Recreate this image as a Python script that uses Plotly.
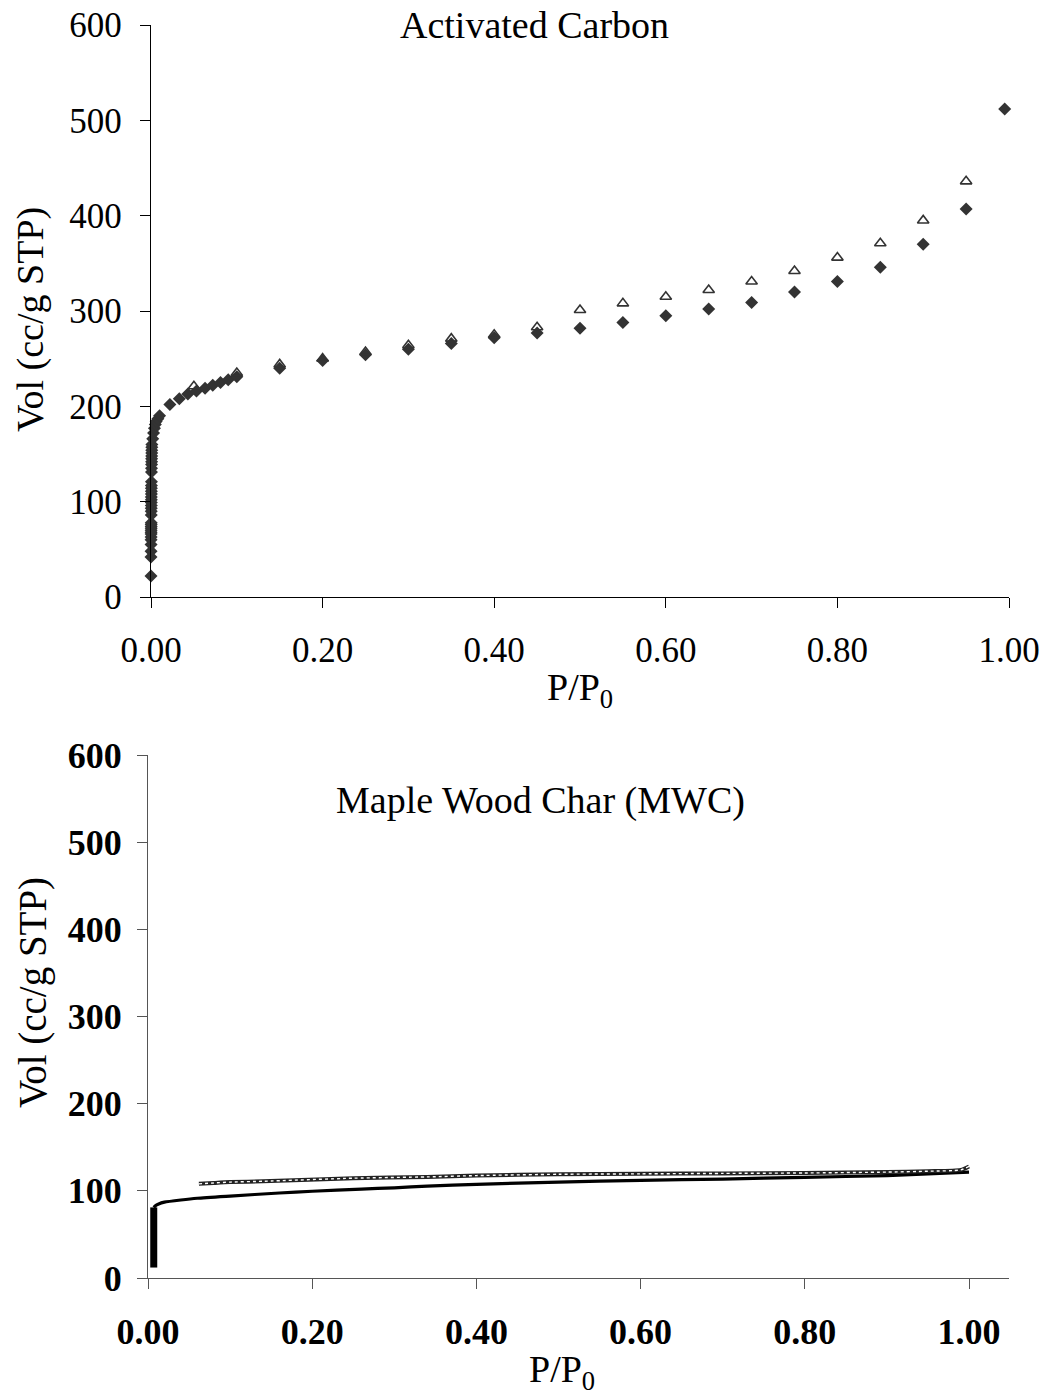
import plotly.graph_objects as go

# ---- Activated carbon: N2 isotherm (adsorption = filled diamonds, desorption = open triangles)
ac_ads_p = [0.00002, 0.00004, 0.00006, 0.00008, 0.0001, 0.00012, 0.00014, 0.00016, 0.00018,
            0.0002, 0.00022, 0.00024, 0.00026, 0.00028, 0.0003, 0.00032, 0.00034, 0.00036,
            0.00038, 0.0004, 0.00042, 0.00044, 0.00046, 0.00048, 0.0005, 0.00055, 0.0006,
            0.00065, 0.0007, 0.00075, 0.0008, 0.00085, 0.0009, 0.00095, 0.001,
            0.002, 0.003, 0.004, 0.005, 0.006, 0.008, 0.010,
            0.022, 0.033, 0.043, 0.053, 0.063, 0.072, 0.081, 0.090, 0.10,
            0.15, 0.20, 0.25, 0.30, 0.35, 0.40, 0.45, 0.50, 0.55, 0.60, 0.65,
            0.70, 0.75, 0.80, 0.85, 0.90, 0.95, 0.995]
ac_ads_v = [22, 42, 48, 55, 60, 63, 66, 68, 70, 72, 74, 76, 78,
            86, 90, 93, 96, 99, 102, 105, 108, 111, 114, 117, 121,
            131, 135, 139, 142, 145, 148, 151, 154, 157, 160,
            166, 172, 177, 181, 184, 187, 190,
            202, 208, 213, 216, 219, 222, 225, 228, 231,
            240, 248, 254, 260, 266, 272, 277, 282, 288, 295, 302,
            309, 320, 331, 346, 370, 407, 512]

ac_des_p = [0.05, 0.10, 0.15, 0.20, 0.25, 0.30, 0.35, 0.40, 0.45, 0.50,
            0.55, 0.60, 0.65, 0.70, 0.75, 0.80, 0.85, 0.90, 0.95]
ac_des_v = [221, 235, 244, 250, 257, 264, 271, 275, 283, 301,
            308, 315, 322, 331, 342, 356, 371, 395, 436]

# ---- Maple wood char (MWC): continuous isotherm traces
mwc_low_p = [0.007, 0.007]
mwc_low_v = [12, 81]

mwc_ads_p = [0.007, 0.009, 0.013, 0.02, 0.04, 0.06, 0.10, 0.16, 0.20, 0.26, 0.30, 0.34,
             0.40, 0.50, 0.60, 0.70, 0.80, 0.90, 1.00]
mwc_ads_v = [81, 83, 85, 87, 89.5, 91.5, 94, 97.5, 99.5, 102, 103.5, 105.5,
             107.5, 110, 112, 113.5, 115.5, 117.5, 121.5]

mwc_des_p = [1.00, 0.99, 0.95, 0.90, 0.80, 0.70, 0.60, 0.50, 0.40, 0.34, 0.25, 0.14, 0.10, 0.08, 0.062]
mwc_des_v = [128, 124, 122.5, 121.5, 120.5, 120, 119.5, 119, 117.5, 116, 114.5, 111, 110, 109, 108]

y_ticks = [0, 100, 200, 300, 400, 500, 600]
x_ticks = [0.0, 0.2, 0.4, 0.6, 0.8, 1.0]

SERIF = "Liberation Serif, Times New Roman, serif"
INK = "#333333"

fig = go.Figure()

fig.add_trace(go.Scatter(
    x=ac_ads_p, y=ac_ads_v, mode="markers", xaxis="x", yaxis="y",
    marker=dict(symbol="diamond", size=10, color=INK), cliponaxis=False,
    name="Adsorption"))
fig.add_trace(go.Scatter(
    x=ac_des_p, y=ac_des_v, mode="markers", xaxis="x", yaxis="y",
    marker=dict(symbol="triangle-up-open", size=10, color=INK, line=dict(width=1.6, color=INK)),
    cliponaxis=False, name="Desorption"))

# MWC adsorption branch with thick low-pressure uptake
fig.add_trace(go.Scatter(
    x=mwc_low_p, y=mwc_low_v, mode="lines", xaxis="x2", yaxis="y2",
    line=dict(color="black", width=7), cliponaxis=False, name="Uptake"))
fig.add_trace(go.Scatter(
    x=mwc_ads_p, y=mwc_ads_v, mode="lines", xaxis="x2", yaxis="y2",
    line=dict(color="black", width=3.2, shape="spline", smoothing=0.6),
    cliponaxis=False, name="MWC adsorption"))
# MWC desorption branch drawn as an outlined (hollow) line
fig.add_trace(go.Scatter(
    x=mwc_des_p, y=mwc_des_v, mode="lines", xaxis="x2", yaxis="y2",
    line=dict(color="#222222", width=4, shape="spline", smoothing=0.6),
    cliponaxis=False, name="MWC desorption"))
fig.add_trace(go.Scatter(
    x=mwc_des_p, y=mwc_des_v, mode="lines", xaxis="x2", yaxis="y2",
    line=dict(color="white", width=1.4, shape="spline", smoothing=0.6, dash="dot"),
    cliponaxis=False, name="MWC desorption core"))

W, H = 1049, 1399

def px_x(p):
    return p / W

def px_y(p):
    return 1 - p / H

def axis_style(line_color):
    return dict(
        showgrid=False, zeroline=False, showline=True, linecolor=line_color, linewidth=1.3,
        ticks="outside", ticklen=10, tickwidth=1.3, tickcolor=line_color, automargin=False,
    )

fig.update_layout(
    width=W, height=H, margin=dict(l=0, r=0, t=0, b=0),
    paper_bgcolor="white", plot_bgcolor="white", showlegend=False,
    xaxis=dict(**axis_style("black"), domain=[px_x(151), px_x(1009)], range=[0, 1.0],
               tickvals=x_ticks, tickformat=".2f", anchor="y",
               tickfont=dict(family=SERIF, size=35, color="black"), ticklabelstandoff=12),
    yaxis=dict(**axis_style("black"), domain=[px_y(597), px_y(25)], range=[0, 600],
               tickvals=y_ticks, anchor="x",
               tickfont=dict(family=SERIF, size=35, color="black"), ticklabelstandoff=11),
    xaxis2=dict(**axis_style("#555555"), domain=[px_x(148), px_x(1009)], range=[0, 1.0487],
                tickvals=x_ticks, tickformat=".2f", anchor="y2",
                tickfont=dict(family=SERIF, size=36, color="black", weight="bold"),
                ticklabelstandoff=12),
    yaxis2=dict(**axis_style("#555555"), domain=[px_y(1278), px_y(755)], range=[0, 600],
                tickvals=y_ticks, anchor="x2",
                tickfont=dict(family=SERIF, size=36, color="black", weight="bold"),
                ticklabelstandoff=8),
)

def label(text, x, y, size=38, angle=0):
    fig.add_annotation(text=text, x=px_x(x), y=px_y(y), xref="paper", yref="paper",
                       showarrow=False, textangle=angle, xanchor="center", yanchor="middle",
                       font=dict(family=SERIF, size=size, color="black"))

label("Activated Carbon", 534, 25)
label("Vol (cc/g STP)", 30, 320, angle=-90)
label("P/P<sub>0</sub>", 580, 690)

label("Maple Wood Char (MWC)", 540, 800)
label("Vol (cc/g STP)", 33, 993, size=39, angle=-90)
label("P/P<sub>0</sub>", 562, 1372, size=38)

fig.write_html("out.html")
